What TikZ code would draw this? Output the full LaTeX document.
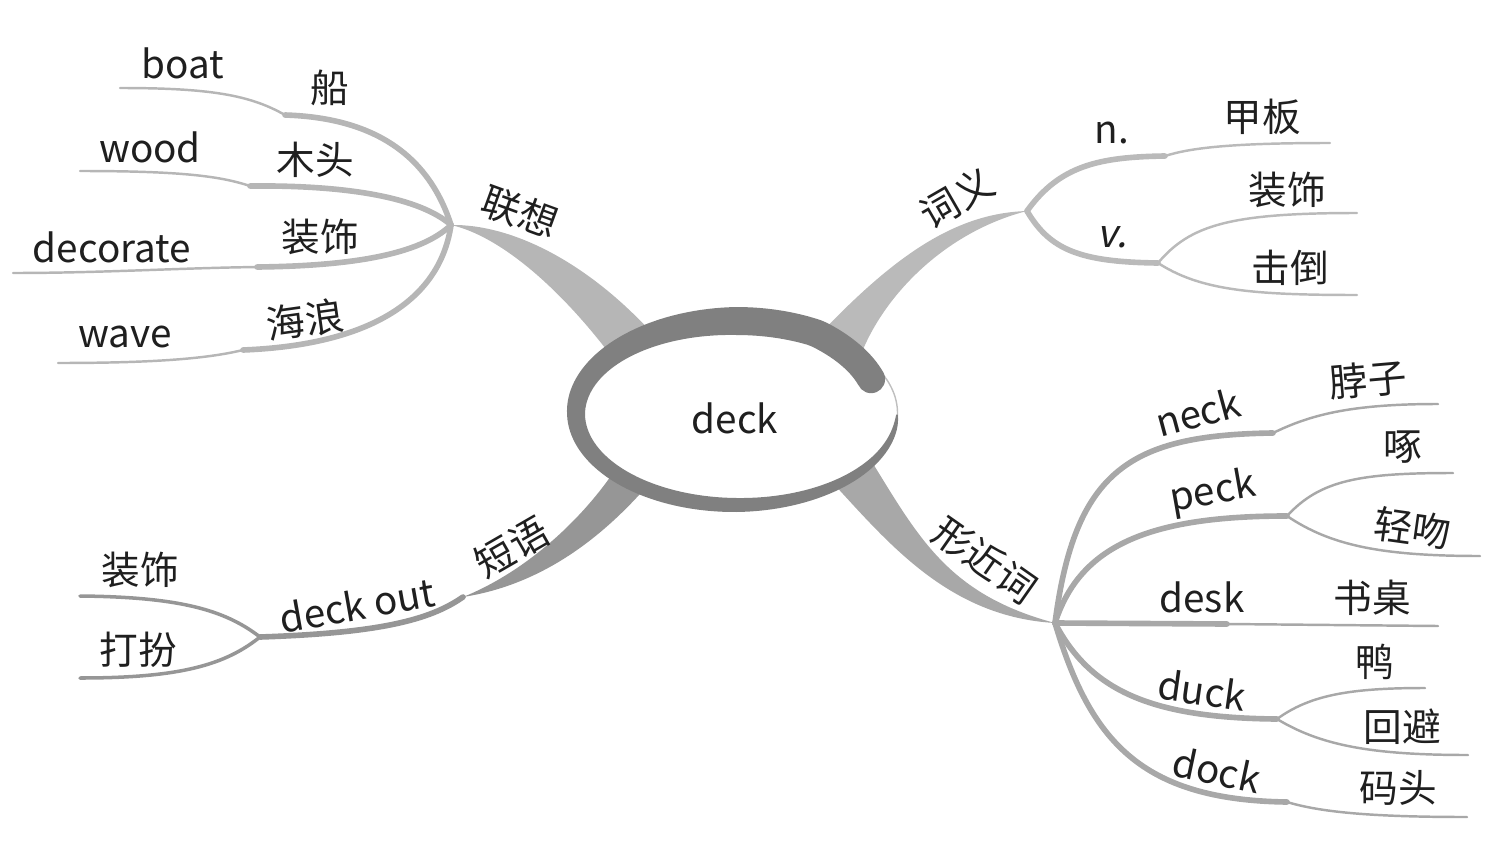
\documentclass[tikz,border=0pt]{standalone}
\usepackage{fontspec}
\setmainfont{Noto Sans CJK SC}
\newfontfamily\slfont[FakeSlant=0.2]{Noto Sans CJK SC}
\usepackage{tikz}

\definecolor{crest}{RGB}{128,128,128}
\definecolor{gA}{RGB}{182,182,182}
\definecolor{gB}{RGB}{186,186,186}
\definecolor{gC}{RGB}{168,168,168}
\definecolor{gD}{RGB}{150,150,150}

\begin{document}
\begin{tikzpicture}[
  x=0.02cm, y=-0.02cm,
  declare function={bw(\t)=(\t<90)?28:((\t<180)?(28-10*(\t-90)/90):((\t<270)?(18-4*(\t-180)/90):(14*sqrt(abs(360-\t)/90))));
    sh(\t)=(\t<60)?(12*(60-\t)/35):0;},
  word/.style={font=\fontsize{22}{26}\selectfont, text=black!88, inner sep=0pt},
  limb/.style={fill=#1},
  twig/.style={draw=#1, line width=3.2pt, line cap=round},
  leaf/.style={draw=#1, line width=1.4pt, line cap=round},
]
\useasboundingbox (0,0) rectangle (1491,845);

\coordinate (hubA) at (451,225);
\coordinate (hubB) at (1027,211);
\coordinate (hubC) at (1055,623);
\coordinate (kinkD) at (463,597);
\coordinate (hubD) at (260,637);

% main limbs
\fill[limb=gA] (hubA) .. controls (510,224) and (585,260) .. (652,333) -- (612,357) .. controls (560,288) and (500,236) .. (hubA) -- cycle;
\fill[limb=gB] (hubB) .. controls (960,213) and (900,250) .. (822,332) -- (862,352) .. controls (885,295) and (945,232) .. (hubB) -- cycle;
\fill[limb=gC] (hubC) .. controls (950,595) and (920,540) .. (872,462) -- (832,482) .. controls (890,545) and (950,617) .. (hubC) -- cycle;
\fill[limb=gD] (kinkD) .. controls (530,570) and (585,515) .. (615,470) -- (648,485) .. controls (600,540) and (540,585) .. (kinkD) -- cycle;

% centre
\fill[white] (736.5,413) ellipse[x radius=160.5, y radius=92];
\draw[black!25, line width=0.8pt] plot[domain=-35:30, samples=30, variable=\a] ({736.5+161*cos(\a)},{413-93*sin(\a)});
\fill[crest] plot[domain=25:359, samples=140, variable=\a] ({736.5+(160.5+bw(\a)/2-sh(\a))*cos(\a)},{413-(92+bw(\a)/2-sh(\a))*sin(\a)})
  -- plot[domain=359:25, samples=140, variable=\a] ({736.5+(160.5-bw(\a)/2-sh(\a))*cos(\a)},{413-(92-bw(\a)/2-sh(\a))*sin(\a)}) -- cycle;
\fill[crest] ({736.5+148.5*cos(25)},{413-80*sin(25)}) circle[radius=14];
\node[word] (deck) at (735,418) {deck};

% 联想
\coordinate (kA1) at (285,115);
\coordinate (kA2) at (250,186);
\coordinate (kA3) at (257,267);
\coordinate (kA4) at (243,350);
\draw[twig=gA] (hubA) .. controls (430,160) and (380,118) .. (kA1);
\draw[leaf=gA] (kA1) .. controls (250,95) and (210,88) .. (120,88);
\draw[twig=gA] (hubA) .. controls (420,198) and (350,185) .. (kA2);
\draw[leaf=gA] (kA2) .. controls (220,176) and (180,171) .. (80,171);
\draw[twig=gA] (hubA) .. controls (420,255) and (350,266) .. (kA3);
\draw[leaf=gA] (kA3) .. controls (180,268) and (100,273) .. (13,273);
\draw[twig=gA] (hubA) .. controls (440,300) and (370,345) .. (kA4);
\draw[leaf=gA] (kA4) .. controls (210,358) and (160,363) .. (58,363);
\node[word, rotate=-20] (assoc) at (520,212) {联想};
\node[word] (boatzh) at (330,88) {船};
\node[word] (boat) at (183,63) {boat};
\node[word] (woodzh) at (315,160) {木头};
\node[word] (wood) at (150,147) {wood};
\node[word] (decozh) at (320,237) {装饰};
\node[word] (deco) at (112,247) {decorate};
\node[word, rotate=8] (wavezh) at (305,320) {海浪};
\node[word] (wave) at (125,337) {wave};

% 词义
\coordinate (kB1) at (1165,156);
\coordinate (kB2) at (1158,263);
\draw[twig=gB] (hubB) .. controls (1060,165) and (1100,157) .. (kB1);
\draw[leaf=gB] (kB1) .. controls (1190,148) and (1230,143) .. (1330,143);
\draw[twig=gB] (hubB) .. controls (1050,250) and (1080,262) .. (kB2);
\draw[leaf=gB] (kB2) .. controls (1190,225) and (1230,213) .. (1357,213);
\draw[leaf=gB] (kB2) .. controls (1200,290) and (1250,295) .. (1357,295);
\node[word, rotate=30] (sense) at (957,198) {词义};
\node[word] (noun) at (1112,133) {n.};
\node[word] (jiaban) at (1262,117) {甲板};
\node[word, font=\fontsize{22}{26}\slfont] (verb) at (1112,237) {v.};
\node[word] (zhuangshi) at (1287,190) {装饰};
\node[word] (jidao) at (1290,268) {击倒};

% 形近词
\coordinate (kC1) at (1273,433);
\coordinate (kC2) at (1287,516);
\coordinate (kC3) at (1227,624);
\coordinate (kC4) at (1277,719);
\coordinate (kC5) at (1287,802);
\draw[twig=gC] (hubC) .. controls (1075,470) and (1130,435) .. (kC1);
\draw[leaf=gC] (kC1) .. controls (1310,415) and (1350,404) .. (1438,404);
\draw[twig=gC] (hubC) .. controls (1080,545) and (1150,516) .. (kC2);
\draw[leaf=gC] (kC2) .. controls (1320,480) and (1360,473) .. (1453,473);
\draw[leaf=gC] (kC2) .. controls (1330,545) and (1380,556) .. (1480,556);
\draw[twig=gC] (hubC) -- (kC3);
\draw[leaf=gC] (kC3) -- (1438,626);
\draw[twig=gC] (hubC) .. controls (1090,690) and (1150,718) .. (kC4);
\draw[leaf=gC] (kC4) .. controls (1310,695) and (1350,688) .. (1425,688);
\draw[leaf=gC] (kC4) .. controls (1320,745) and (1370,755) .. (1468,755);
\draw[twig=gC] (hubC) .. controls (1090,740) and (1140,800) .. (kC5);
\draw[leaf=gC] (kC5) .. controls (1320,812) and (1370,817) .. (1467,817);
\node[word, rotate=-35] (alike) at (985,560) {形近词};
\node[word, rotate=15] (neck) at (1198,412) {neck};
\node[word, rotate=5] (bozi) at (1368,380) {脖子};
\node[word, rotate=10] (peck) at (1213,493) {peck};
\node[word] (zhuo) at (1403,447) {啄};
\node[word, rotate=-8] (qingwen) at (1413,528) {轻吻};
\node[word] (desk) at (1202,597) {desk};
\node[word] (shuzhuo) at (1372,598) {书桌};
\node[word, rotate=-8] (duck) at (1202,690) {duck};
\node[word] (ya) at (1375,662) {鸭};
\node[word] (huibi) at (1402,727) {回避};
\node[word, rotate=-12] (dock) at (1217,770) {dock};
\node[word] (matou) at (1398,788) {码头};

% 短语
\draw[twig=gD] (kinkD) .. controls (430,620) and (380,633) .. (hubD);
\draw[leaf=gD, line width=2pt] (hubD) .. controls (225,610) and (180,597) .. (80,596);
\draw[leaf=gD, line width=2pt] (hubD) .. controls (225,665) and (180,678) .. (80,678);
\node[word, rotate=30] (phrase) at (512,547) {短语};
\node[word, rotate=10] (deckout) at (357,605) {deck out};
\node[word] (dress) at (140,570) {装饰};
\node[word] (dressup) at (138,650) {打扮};

\end{tikzpicture}
\end{document}
